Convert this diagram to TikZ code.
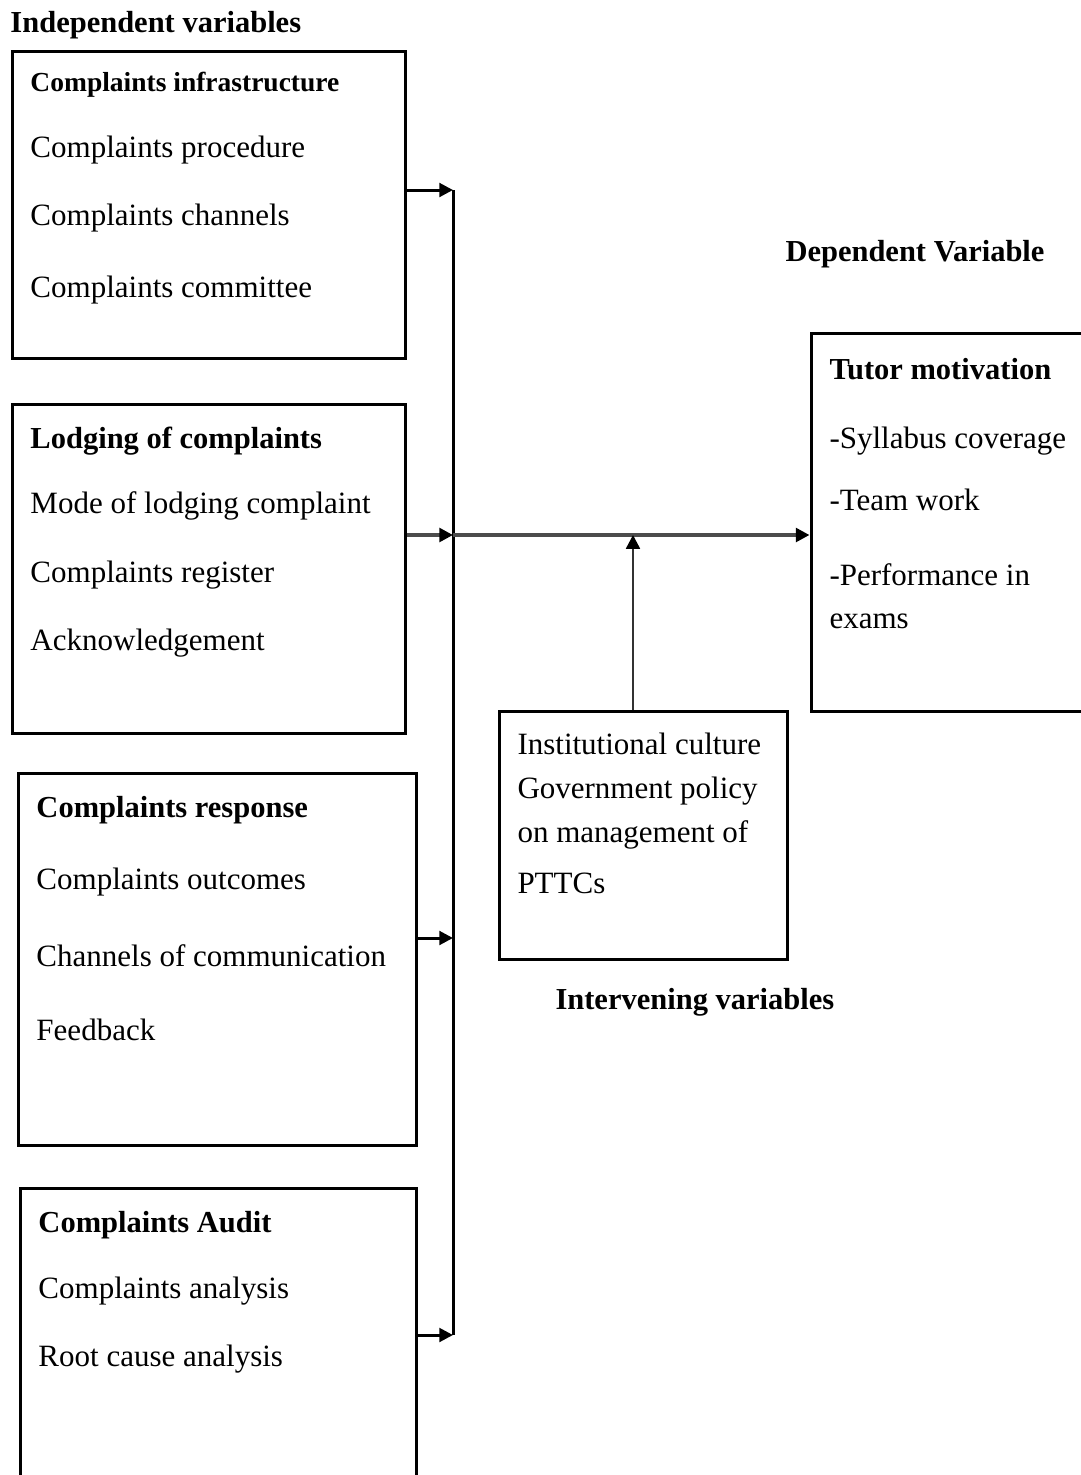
\documentclass[tikz,border=0pt]{standalone}
\usepackage{fontspec}
\setmainfont{Liberation Serif}
\usetikzlibrary{arrows.meta,fit}
\tikzset{
  box/.style={draw, line width=1.2pt, inner sep=0pt},
  txt/.style={anchor=west, inner sep=0pt, font=\fontsize{12.4}{14}\selectfont},
  hd/.style={txt, font=\fontsize{12.2}{14}\selectfont\bfseries},
  arr/.style={line width=1.2pt, -{Triangle[length=5.5pt,width=5.5pt]}},
  mainarr/.style={line width=1.8pt, black!70, -{Triangle[length=5.5pt,width=5.5pt,color=black]}}
}

\begin{document}
\begin{tikzpicture}[x=0.4pt, y=-0.4pt]
  \useasboundingbox (0,0) rectangle (1081,1475);
  \node[hd] (indep) at (10,25) {Independent variables};
  \node[hd] (dep) at (785,254) {Dependent Variable};
  \node[hd] (intv) at (555,1002) {Intervening variables};

  \node[box, fit={(12,51) (405,358)}] (infra) {};
  \node[txt, font=\fontsize{11}{13}\selectfont\bfseries] (infra1) at (30,85) {Complaints infrastructure};
  \node[txt] (infra2) at (30,150) {Complaints procedure};
  \node[txt] (infra3) at (30,218) {Complaints channels};
  \node[txt] (infra4) at (30,290) {Complaints committee};

  \node[box, fit={(12,404) (405,733)}] (lodge) {};
  \node[hd] (lodge1) at (30,441) {Lodging of complaints};
  \node[txt] (lodge2) at (30,506) {Mode of lodging complaint};
  \node[txt] (lodge3) at (30,575) {Complaints register};
  \node[txt] (lodge4) at (30,643) {Acknowledgement};

  \node[box, fit={(18,773) (416,1145)}] (resp) {};
  \node[hd] (resp1) at (36,810) {Complaints response};
  \node[txt] (resp2) at (36,882) {Complaints outcomes};
  \node[txt] (resp3) at (36,956) {Channels of communication};
  \node[txt] (resp4) at (36,1030) {Feedback};

  \node[box, fit={(20,1188) (416,1490)}] (audit) {};
  \node[hd] (audit1) at (38,1225) {Complaints Audit};
  \node[txt] (audit2) at (38,1291) {Complaints analysis};
  \node[txt] (audit3) at (38,1359) {Root cause analysis};

  \node[box, fit={(811,333) (1095,711)}] (motiv) {};
  \node[hd] (motiv1) at (829,369) {Tutor motivation};
  \node[txt] (motiv2) at (829,441) {-Syllabus coverage};
  \node[txt] (motiv3) at (829,500) {-Team work};
  \node[txt] (motiv4) at (829,575) {-Performance in};
  \node[txt] (motiv5) at (829,621) {exams};

  \node[box, fit={(499,711) (787,959)}] (cult) {};
  \node[txt] (cult1) at (517,744) {Institutional culture};
  \node[txt] (cult2) at (517,791) {Government policy};
  \node[txt] (cult3) at (517,835) {on management of};
  \node[txt] (cult4) at (517,883) {PTTCs};

  \coordinate (b1) at (453,190);
  \coordinate (b2) at (453,535);
  \coordinate (b3) at (453,938);
  \coordinate (b4) at (453,1335);
  \coordinate (j) at (633,535);

  \draw[line width=1.2pt] (b1) -- (b4);
  \draw[arr] (infra.east |- b1) -- (b1);
  \draw[arr] (resp.east |- b3) -- (b3);
  \draw[arr] (audit.east |- b4) -- (b4);
  \draw[mainarr] (lodge.east |- b2) -- (b2);
  \draw[mainarr] (b2) -- (motiv.west |- b2);
  \draw[line width=1pt, black!80, -{Triangle[length=5.5pt,width=5.5pt,color=black]}] (cult.north -| j) -- (j);
\end{tikzpicture}
\end{document}
